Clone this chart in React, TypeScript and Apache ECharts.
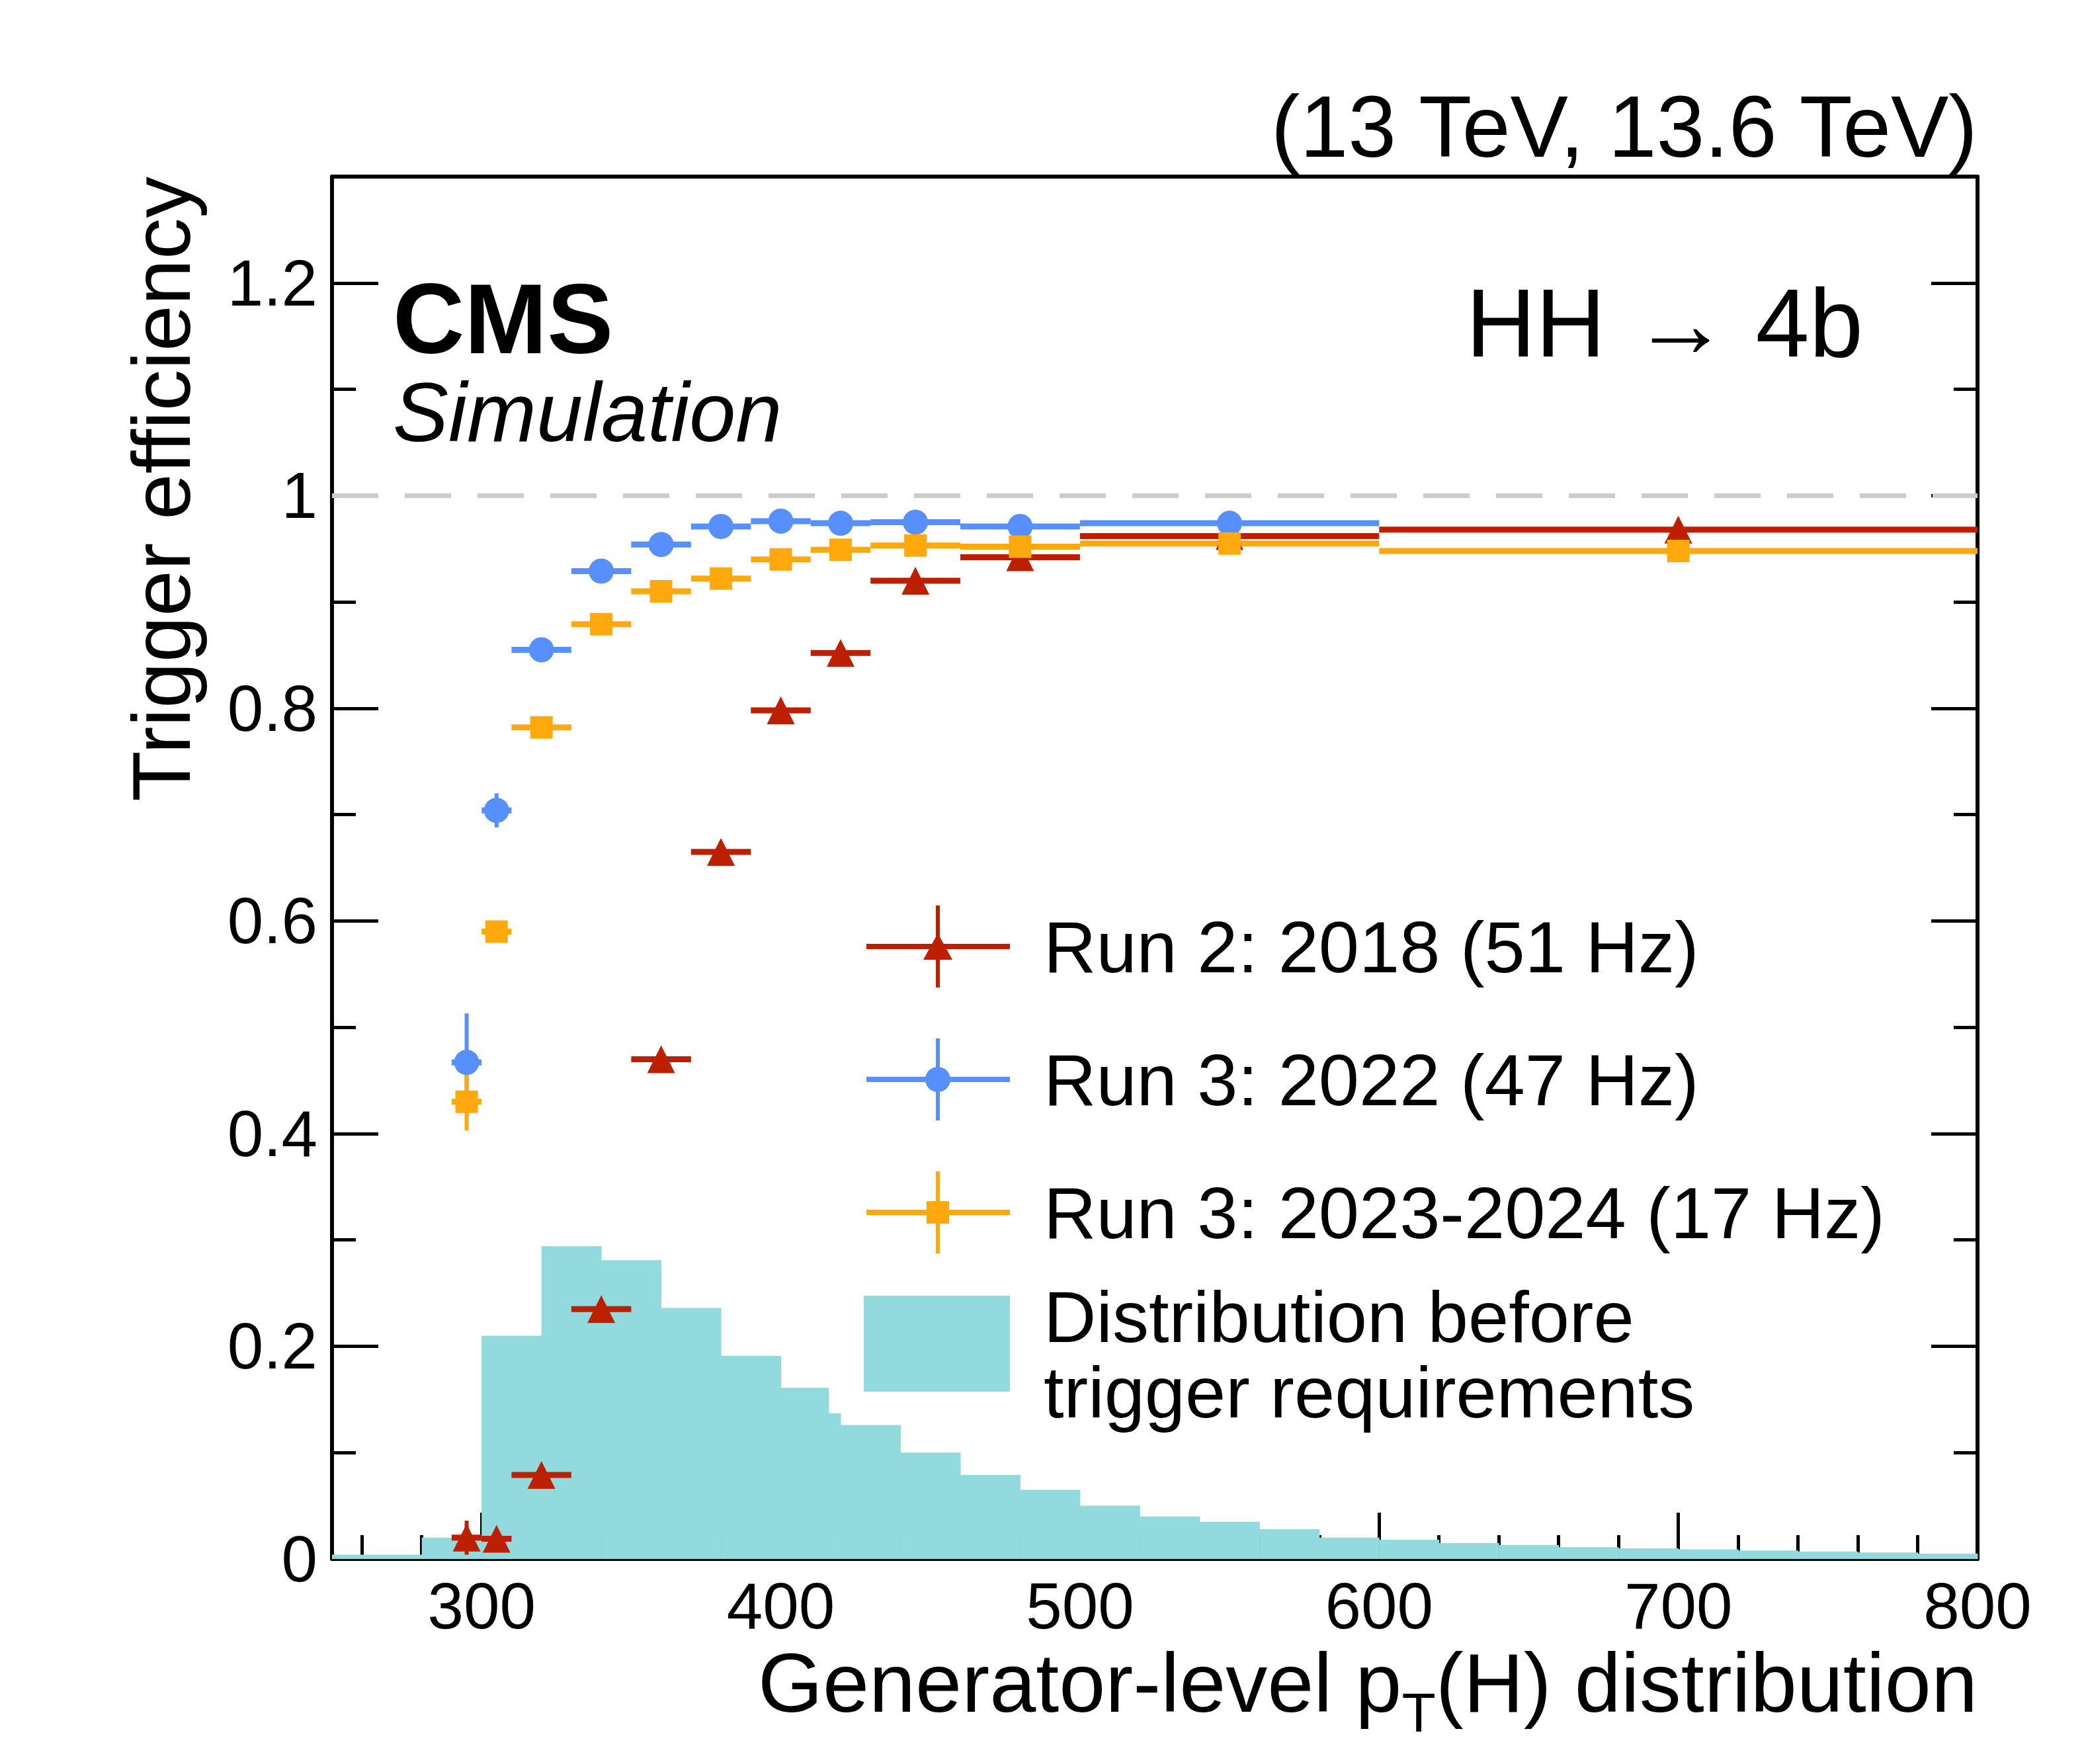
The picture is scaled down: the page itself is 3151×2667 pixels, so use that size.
import React, { useRef, useEffect } from "react";
import * as echarts from "echarts";

// efficiency bins (GeV)
const binLo = [290, 300, 310, 330, 350, 370, 390, 410, 430, 460, 500, 600];
const binHi = [300, 310, 330, 350, 370, 390, 410, 430, 460, 500, 600, 800];

const run2Eff = [0.02, 0.019, 0.079, 0.235, 0.47, 0.665, 0.798, 0.852, 0.92, 0.942, 0.962, 0.968];
const run2Err = [0.016, 0.006, 0.005, 0.005, 0.007, 0.007, 0.006, 0.006, 0.004, 0.003, 0.003, 0.003];
const run3aEff = [0.467, 0.704, 0.855, 0.929, 0.954, 0.971, 0.976, 0.974, 0.975, 0.971, 0.974];
const run3aErr = [0.046, 0.016, 0.006, 0.004, 0.003, 0.003, 0.003, 0.003, 0.003, 0.002, 0.002];
const run3bEff = [0.43, 0.59, 0.782, 0.879, 0.91, 0.922, 0.94, 0.949, 0.953, 0.952, 0.955, 0.948];
const run3bErr = [0.027, 0.01, 0.006, 0.004, 0.003, 0.003, 0.003, 0.003, 0.003, 0.002, 0.002, 0.002];

// generator-level distribution
const histEdges = [250, 280, 300, 320, 340, 360, 380, 400, 416, 420, 440, 460, 480, 500, 520, 540, 560, 580, 600, 620, 640, 660, 680, 700, 720, 740, 760, 780, 800];
const histVals = [0.004, 0.02, 0.21, 0.294, 0.281, 0.236, 0.191, 0.161, 0.137, 0.126, 0.1, 0.079, 0.065, 0.05, 0.04, 0.035, 0.028, 0.02, 0.018, 0.015, 0.013, 0.011, 0.01, 0.009, 0.008, 0.007, 0.006, 0.005];

const xLabels = [300, 400, 500, 600, 700, 800];
const xMinor = [260, 280, 300, 320, 340, 360, 380, 400, 420, 440, 460, 480, 500, 520, 540, 560, 580, 600, 620, 640, 660, 680, 700, 720, 740, 760, 780];

const RED = "#bd1f01";
const BLUE = "#5790fc";
const ORANGE = "#ffa90e";
const TEAL = "#92dadd";
const FONT = "Liberation Sans";

const L = 502, T = 267, W = 2488, H = 2090;

function points(eff: number[]) {
  return eff.map((v, i) => [(binLo[i] + binHi[i]) / 2, v]);
}

function errSeries(eff: number[], err: number[], color: string) {
  return {
    type: "custom",
    z: 3,
    data: eff.map((v, i) => [binLo[i], binHi[i], v, err[i]]),
    renderItem: (_p: any, api: any) => {
      const lo = api.value(0), hi = api.value(1), y = api.value(2), e = api.value(3);
      const a = api.coord([lo, y]);
      const b = api.coord([hi, y]);
      const c = (lo + hi) / 2;
      const u = api.coord([c, y + e]);
      const d = api.coord([c, y - e]);
      return {
        type: "group",
        children: [
          { type: "line", shape: { x1: a[0], y1: a[1], x2: b[0], y2: b[1] }, style: { stroke: color, lineWidth: 9 } },
          { type: "line", shape: { x1: u[0], y1: u[1], x2: d[0], y2: d[1] }, style: { stroke: color, lineWidth: 6 } },
        ],
      };
    },
  };
}

export default function App() {
  const ref = useRef<HTMLDivElement>(null);

  useEffect(() => {
    document.body.style.margin = "0";
    if (!ref.current) return;
    const chart = echarts.init(ref.current, null, { renderer: "svg" });

    const xBase = { type: "value", min: 250, max: 800, gridIndex: 0 };
    const yAxisBase = {
      type: "value", min: 0, max: 1.3, interval: 0.2,
      axisLine: { show: true, onZero: false, lineStyle: { color: "#000", width: 6 } },
      axisTick: { show: true, inside: true, length: 70, lineStyle: { color: "#000", width: 5 } },
      minorTick: { show: true, splitNumber: 2, length: 36, lineStyle: { color: "#000", width: 5 } },
      splitLine: { show: false },
    };
    const legendRow = (y: number, color: string, sym: any, text: string) => [
      { type: "line", shape: { x1: 1310, y1: y, x2: 1527, y2: y }, style: { stroke: color, lineWidth: 8 } },
      { type: "line", shape: { x1: 1418, y1: y - 62, x2: 1418, y2: y + 62 }, style: { stroke: color, lineWidth: 6 } },
      { ...sym, style: { fill: color } },
      { type: "text", x: 1578, y, style: { text, font: `110px "${FONT}"`, fill: "#000", verticalAlign: "middle" } },
    ];

    chart.setOption({
      animation: false,
      backgroundColor: "#fff",
      grid: { left: L, top: T, width: W, height: H },
      xAxis: [
        {
          ...xBase, position: "bottom",
          axisLine: { show: true, onZero: false, lineStyle: { color: "#000", width: 6 } },
          axisTick: { show: true, inside: true, length: 70, customValues: xLabels, lineStyle: { color: "#000", width: 5 } },
          axisLabel: { customValues: xLabels, fontSize: 98, fontFamily: FONT, color: "#000", margin: 22 },
          splitLine: { show: false },
          name: "{a|Generator-level p}{s|T}{a|(H) distribution}",
          nameLocation: "end",
          nameGap: 0,
          nameTextStyle: {
            align: "right", verticalAlign: "top", padding: [100, 0, 0, 0],
            rich: {
              a: { fontSize: 126, fontFamily: FONT, color: "#000" },
              s: { fontSize: 84, fontFamily: FONT, color: "#000", padding: [90, 0, 0, 0] },
            },
          },
        },
        {
          ...xBase, position: "bottom",
          axisLine: { show: false },
          axisTick: { show: true, inside: true, length: 36, customValues: xMinor, lineStyle: { color: "#000", width: 5 } },
          axisLabel: { show: false }, splitLine: { show: false },
        },
        {
          ...xBase, position: "top",
          axisLine: { show: true, onZero: false, lineStyle: { color: "#000", width: 6 } },
          axisTick: { show: false }, axisLabel: { show: false }, splitLine: { show: false },
        },
      ],
      yAxis: [
        {
          ...yAxisBase, position: "left",
          axisLabel: {
            fontSize: 98, fontFamily: FONT, color: "#000", margin: 22,
            formatter: (v: number) => (v > 1.25 ? "" : v === 0 ? "0" : Math.abs(v - 1) < 1e-9 ? "1" : v.toFixed(1)),
          },
          name: "Trigger efficiency",
          nameLocation: "end",
          nameRotate: 90,
          nameGap: 0,
          nameTextStyle: { fontSize: 125, fontFamily: FONT, color: "#000", align: "right", verticalAlign: "bottom", padding: [0, 0, 196, 0] },
        },
        { ...yAxisBase, position: "right", axisLabel: { show: false } },
      ],
      series: [
        {
          type: "custom",
          z: 1,
          data: histVals.map((v, i) => [histEdges[i], histEdges[i + 1], v]),
          renderItem: (_p: any, api: any) => {
            const a = api.coord([api.value(0), api.value(2)]);
            const b = api.coord([api.value(1), 0]);
            return { type: "rect", shape: { x: a[0], y: a[1], width: b[0] - a[0] + 0.5, height: b[1] - a[1] }, style: { fill: TEAL } };
          },
          markLine: {
            silent: true, symbol: "none", label: { show: false },
            lineStyle: { color: "#cccccc", type: [70, 40], width: 7 },
            data: [{ yAxis: 1 }],
          },
        },
        errSeries(run2Eff, run2Err, RED),
        errSeries(run3aEff, run3aErr, BLUE),
        errSeries(run3bEff, run3bErr, ORANGE),
        { type: "scatter", z: 4, data: points(run2Eff), symbol: "triangle", symbolSize: 42, itemStyle: { color: RED, opacity: 1 } },
        { type: "scatter", z: 4, data: points(run3aEff), symbol: "circle", symbolSize: 38, itemStyle: { color: BLUE, opacity: 1 } },
        { type: "scatter", z: 4, data: points(run3bEff), symbol: "rect", symbolSize: 34, itemStyle: { color: ORANGE, opacity: 1 } },
      ],
      graphic: [
        { type: "text", x: 2990, y: 191, style: { text: "(13 TeV, 13.6 TeV)", font: `131px "${FONT}"`, fill: "#000", align: "right", verticalAlign: "middle" } },
        { type: "text", x: 594, y: 482, style: { text: "CMS", font: `bold 150px "${FONT}"`, fill: "#000", verticalAlign: "middle" } },
        { type: "text", x: 594, y: 623, style: { text: "Simulation", font: `italic 126px "${FONT}"`, fill: "#000", verticalAlign: "middle" } },
        { type: "text", x: 2817, y: 488, style: { text: "HH \u2192 4b", font: `146px "${FONT}"`, fill: "#000", align: "right", verticalAlign: "middle" } },
        ...legendRow(1431, RED, { type: "polygon", shape: { points: [[1418, 1411], [1396, 1451], [1440, 1451]] } }, "Run 2: 2018 (51 Hz)"),
        ...legendRow(1632, BLUE, { type: "circle", shape: { cx: 1418, cy: 1632, r: 19 } }, "Run 3: 2022 (47 Hz)"),
        ...legendRow(1833, ORANGE, { type: "rect", shape: { x: 1401, y: 1816, width: 34, height: 34 } }, "Run 3: 2023-2024 (17 Hz)"),
        { type: "rect", shape: { x: 1306, y: 1959, width: 221, height: 145 }, style: { fill: TEAL } },
        { type: "text", x: 1578, y: 1990, style: { text: "Distribution before", font: `110px "${FONT}"`, fill: "#000", verticalAlign: "middle" } },
        { type: "text", x: 1578, y: 2104, style: { text: "trigger requirements", font: `110px "${FONT}"`, fill: "#000", verticalAlign: "middle" } },
      ],
    });

    return () => chart.dispose();
  }, []);

  return <div ref={ref} style={{ width: 3151, height: 2667 }} />;
}
